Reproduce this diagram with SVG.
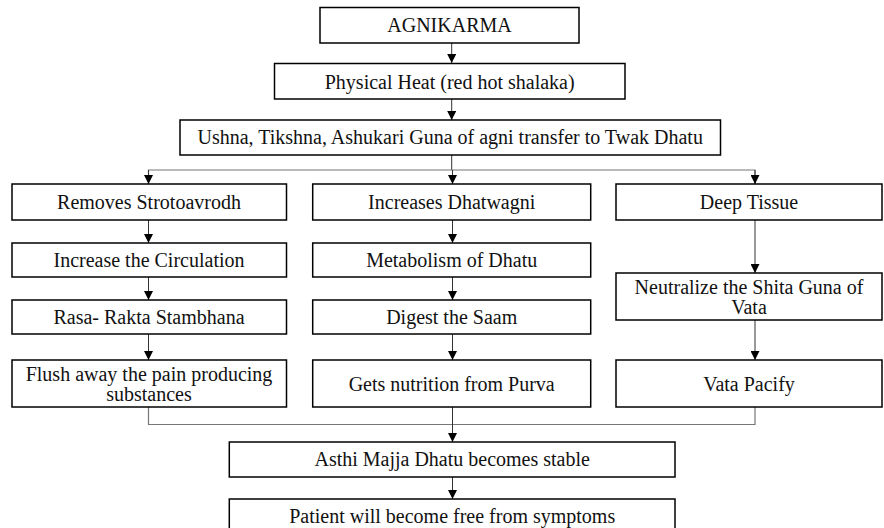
<svg xmlns="http://www.w3.org/2000/svg" width="884" height="528" viewBox="0 0 884 528">
<style>
.box{fill:#fff;stroke:#000;stroke-width:1.5}
.t{font-family:'Liberation Serif','DejaVu Serif',serif;font-size:20px;fill:#111;text-anchor:middle}
.c{fill:none;stroke:#333;stroke-width:1}
.h{fill:none;stroke:#777;stroke-width:1.2}
</style>
<defs>
<marker id="ah" viewBox="0 0 10 10" refX="10" refY="5" markerWidth="9" markerHeight="9" markerUnits="userSpaceOnUse" orient="auto">
<path d="M0,0 L10,5 L0,10 z" fill="#000"/>
</marker>
</defs>
<rect width="884" height="528" fill="#fff"/>
<g id="connectors">
<line class="c" x1="451.7" y1="43" x2="451.7" y2="63" marker-end="url(#ah)"/>
<line class="c" x1="451.7" y1="99" x2="451.7" y2="120" marker-end="url(#ah)"/>
<line class="c" x1="451.7" y1="155" x2="451.7" y2="170"/>
<polyline class="h" points="148.5,184 148.5,170 755,170 755,184"/>
<line class="c" x1="148.5" y1="170" x2="148.5" y2="184" marker-end="url(#ah)"/>
<line class="c" x1="452.5" y1="170" x2="452.5" y2="184" marker-end="url(#ah)"/>
<line class="c" x1="755" y1="170" x2="755" y2="184" marker-end="url(#ah)"/>
<line class="c" x1="148.5" y1="220" x2="148.5" y2="243" marker-end="url(#ah)"/>
<line class="c" x1="148.5" y1="277" x2="148.5" y2="300" marker-end="url(#ah)"/>
<line class="c" x1="148.5" y1="334" x2="148.5" y2="360" marker-end="url(#ah)"/>
<line class="c" x1="452.5" y1="220" x2="452.5" y2="243" marker-end="url(#ah)"/>
<line class="c" x1="452.5" y1="277" x2="452.5" y2="300" marker-end="url(#ah)"/>
<line class="c" x1="452.5" y1="334" x2="452.5" y2="360" marker-end="url(#ah)"/>
<line class="c" x1="755" y1="220" x2="755" y2="273" marker-end="url(#ah)"/>
<line class="c" x1="755" y1="320" x2="755" y2="360" marker-end="url(#ah)"/>
<polyline class="h" points="148.5,407 148.5,424.5 755,424.5 755,407"/>
<line class="c" x1="452.5" y1="407" x2="452.5" y2="442" marker-end="url(#ah)"/>
<line class="c" x1="452.5" y1="477" x2="452.5" y2="499" marker-end="url(#ah)"/>
</g>
<g id="n-agnikarma"><rect class="box" x="320" y="7.5" width="259" height="35.5"/><text class="t" x="449.5" y="32">AGNIKARMA</text></g>
<g id="n-heat"><rect class="box" x="274.5" y="63.5" width="350.5" height="35.5"/><text class="t" x="449.7" y="88.5">Physical Heat (red hot shalaka)</text></g>
<g id="n-ushna"><rect class="box" x="180" y="120" width="540.5" height="35"/><text class="t" x="450.2" y="144">Ushna, Tikshna, Ashukari Guna of agni transfer to Twak Dhatu</text></g>
<g id="n-removes"><rect class="box" x="12" y="184" width="274.5" height="36"/><text class="t" x="149" y="209">Removes Strotoavrodh</text></g>
<g id="n-circulation"><rect class="box" x="12" y="243" width="274.5" height="34"/><text class="t" x="149" y="267">Increase the Circulation</text></g>
<g id="n-rasa"><rect class="box" x="12" y="300" width="274.5" height="34"/><text class="t" x="149" y="324">Rasa- Rakta Stambhana</text></g>
<g id="n-flush"><rect class="box" x="12" y="360" width="274.5" height="47"/><text class="t" x="149" y="380.5">Flush away the pain producing</text><text class="t" x="149" y="400.5">substances</text></g>
<g id="n-dhatwagni"><rect class="box" x="312.7" y="184" width="278" height="36"/><text class="t" x="451.7" y="209">Increases Dhatwagni</text></g>
<g id="n-metabolism"><rect class="box" x="312.7" y="243" width="278" height="34"/><text class="t" x="451.7" y="267">Metabolism of Dhatu</text></g>
<g id="n-saam"><rect class="box" x="312.7" y="300" width="278" height="34"/><text class="t" x="451.7" y="324">Digest the Saam</text></g>
<g id="n-purva"><rect class="box" x="312.7" y="360" width="278" height="47"/><text class="t" x="451.7" y="390.5">Gets nutrition from Purva</text></g>
<g id="n-deep"><rect class="box" x="616" y="184" width="266" height="36"/><text class="t" x="749" y="209">Deep Tissue</text></g>
<g id="n-neutralize"><rect class="box" x="616" y="273" width="266" height="47"/><text class="t" x="749" y="293.5">Neutralize the Shita Guna of</text><text class="t" x="749" y="313.5">Vata</text></g>
<g id="n-pacify"><rect class="box" x="616" y="360" width="266" height="47"/><text class="t" x="749" y="390.5">Vata Pacify</text></g>
<g id="n-asthi"><rect class="box" x="229.3" y="442" width="445.7" height="35"/><text class="t" x="452.2" y="466">Asthi Majja Dhatu becomes stable</text></g>
<g id="n-patient"><rect class="box" x="229.3" y="499" width="445.7" height="40"/><text class="t" x="452.2" y="523">Patient will become free from symptoms</text></g>
</svg>
